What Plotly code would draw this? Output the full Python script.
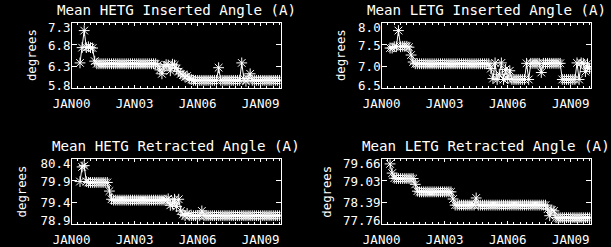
import numpy as np
import plotly.graph_objects as go

# ---------------- data ----------------
TIMES = [
    2000.4, 2000.5, 2000.6, 2000.7, 2000.8, 2000.9,
    2001.0, 2001.1, 2001.2, 2001.3, 2001.4, 2001.5, 2001.6, 2001.7, 2001.8, 2001.9,
    2002.0, 2002.1, 2002.2, 2002.3, 2002.4, 2002.5, 2002.6, 2002.7, 2002.8, 2002.9,
    2003.0, 2003.1, 2003.2, 2003.3, 2003.4, 2003.5, 2003.6, 2003.7, 2003.8, 2003.9,
    2004.0, 2004.1, 2004.2, 2004.3, 2004.4, 2004.5, 2004.6, 2004.7, 2004.8, 2004.9,
    2005.0, 2005.1, 2005.2, 2005.3, 2005.4, 2005.5, 2005.6, 2005.7, 2005.8, 2005.9,
    2006.0, 2006.1, 2006.2, 2006.3, 2006.4, 2006.5, 2006.6, 2006.7, 2006.8, 2006.9,
    2007.0, 2007.1, 2007.2, 2007.3, 2007.4, 2007.5, 2007.6, 2007.7, 2007.8, 2007.9,
    2008.0, 2008.1, 2008.2, 2008.3, 2008.4, 2008.5, 2008.6, 2008.7, 2008.8, 2008.9,
    2009.0, 2009.1, 2009.2, 2009.3, 2009.4, 2009.5, 2009.6, 2009.7, 2009.8, 2009.9,
]

HETG_INSERTED = [
    6.38, 6.73, 7.12, 6.73, 6.75, 6.73,
    6.72, 6.42, 6.36, 6.36, 6.36, 6.36, 6.36, 6.36, 6.36, 6.36,
    6.36, 6.36, 6.36, 6.36, 6.36, 6.36, 6.36, 6.36, 6.36, 6.36,
    6.36, 6.36, 6.36, 6.36, 6.36, 6.36, 6.36, 6.36, 6.36, 6.36,
    6.36, 6.33, 6.22, 6.13, 6.30, 6.34, 6.33, 6.20, 6.35, 6.33,
    6.25, 6.18, 6.13, 6.10, 6.06, 6.08, 6.02, 6.00, 5.98, 5.98,
    5.98, 5.98, 5.98, 5.98, 5.98, 5.98, 5.98, 5.98, 5.98, 5.98,
    6.27, 5.98, 5.98, 5.98, 5.98, 5.98, 5.98, 5.98, 5.98, 5.98,
    5.98, 6.38, 6.02, 5.96, 6.02, 6.13, 5.98, 5.98, 5.98, 5.98,
    5.98, 5.98, 5.98, 5.98, 5.98, 5.98, 5.98, 5.98, 5.98, 5.98,
]

LETG_INSERTED = [
    7.42, 7.42, 7.45, 7.45, 7.82, 7.45,
    7.46, 7.46, 7.46, 7.44, 7.26, 7.10, 7.06, 7.06, 7.06, 7.06,
    7.06, 7.06, 7.06, 7.06, 7.06, 7.06, 7.06, 7.06, 7.06, 7.06,
    7.06, 7.06, 7.06, 7.06, 7.06, 7.06, 7.06, 7.06, 7.06, 7.06,
    7.06, 7.06, 7.06, 7.06, 7.06, 7.06, 7.06, 7.06, 7.06, 7.06,
    7.06, 7.06, 6.95, 6.72, 7.08, 6.70, 6.82, 7.08, 6.70, 6.93,
    6.72, 6.90, 6.70, 6.70, 6.70, 6.70, 6.70, 6.70, 6.70, 7.07,
    6.70, 7.07, 7.07, 7.07, 7.07, 7.07, 6.86, 7.07, 7.07, 7.07,
    7.07, 7.07, 7.07, 7.07, 7.07, 7.07, 6.70, 6.70, 6.70, 6.70,
    6.70, 6.70, 6.70, 7.08, 6.70, 7.08, 7.07, 6.88, 7.06, 6.95,
]

HETG_RETRACTED = [
    79.88, 80.22, 80.25, 79.88, 79.86, 79.86,
    79.86, 79.86, 79.86, 79.86, 79.86, 79.86, 79.86, 79.86, 79.66, 79.47,
    79.45, 79.45, 79.45, 79.45, 79.45, 79.45, 79.45, 79.45, 79.45, 79.45,
    79.45, 79.45, 79.45, 79.45, 79.45, 79.45, 79.45, 79.45, 79.45, 79.45,
    79.45, 79.45, 79.45, 79.45, 79.45, 79.45, 79.48, 79.33, 79.36, 79.47,
    79.30, 79.47, 79.20, 79.12, 79.09, 79.14, 79.09, 79.09, 79.09, 79.09,
    79.09, 79.09, 79.20, 79.09, 79.09, 79.09, 79.09, 79.09, 79.09, 79.09,
    79.09, 79.09, 79.09, 79.09, 79.09, 79.09, 79.09, 79.09, 79.09, 79.09,
    79.09, 79.09, 79.09, 79.09, 79.09, 79.09, 79.09, 79.09, 79.09, 79.09,
    79.09, 79.09, 79.09, 79.09, 79.09, 79.09, 79.09, 79.09, 79.09, 79.09,
]

LETG_RETRACTED = [
    79.52, 79.25, 79.10, 79.09, 79.09, 79.09,
    79.09, 79.09, 79.09, 79.09, 79.09, 79.09, 78.92, 78.72, 78.70, 78.70,
    78.70, 78.70, 78.70, 78.70, 78.70, 78.70, 78.70, 78.70, 78.70, 78.70,
    78.70, 78.70, 78.70, 78.70, 78.49, 78.31, 78.31, 78.31, 78.31, 78.31,
    78.31, 78.31, 78.31, 78.31, 78.31, 78.52, 78.31, 78.31, 78.31, 78.31,
    78.31, 78.31, 78.31, 78.31, 78.31, 78.31, 78.31, 78.31, 78.31, 78.31,
    78.31, 78.31, 78.31, 78.31, 78.31, 78.31, 78.31, 78.31, 78.31, 78.31,
    78.31, 78.31, 78.31, 78.31, 78.31, 78.31, 78.31, 78.31, 78.31, 78.19,
    78.00, 78.17, 78.14, 77.94, 77.94, 77.94, 77.94, 77.94, 77.94, 77.94,
    77.94, 77.94, 77.94, 77.94, 77.94, 77.94, 77.94, 77.94, 77.94, 77.94,
]

TITLES = [
    "Mean HETG Inserted Angle (A)",
    "Mean LETG Inserted Angle (A)",
    "Mean HETG Retracted Angle (A)",
    "Mean LETG Retracted Angle (A)",
]
SERIES = [HETG_INSERTED, LETG_INSERTED, HETG_RETRACTED, LETG_RETRACTED]
YRANGES = [[5.8, 7.3], [6.5, 8.0], [78.9, 80.4], [77.76, 79.66]]
YTICKTEXT = [
    ["5.8", "6.3", "6.8", "7.3"],
    ["6.5", "7.0", "7.5", "8.0"],
    ["78.9", "79.4", "79.9", "80.4"],
    ["77.76", "78.39", "79.03", "79.66"],
]
XTICKVALS = [2000, 2003, 2006, 2009]
XTICKTEXT = ["JAN00", "JAN03", "JAN06", "JAN09"]
XRANGE = [2000.0, 2009.95]
YLABEL = "degrees"

# ---------------- layout geometry (pixels) ----------------
W, H = 611, 247
BOXES = [(54.3, 270.0, 20.3, 87.7), (374.3, 590.0, 20.3, 87.7),
         (54.3, 270.0, 160.7, 227.3), (374.3, 590.0, 160.7, 227.3)]
YLAB_X = [14, 333, 3, 317]
LABEL_SHIFT_PX = [3.0, -0.7, -0.7, -4.7]   # bottom..top, + = up (IDL label placement)
FONT = "DejaVu Sans Mono"
WHITE = "#ffffff"

fig = go.Figure()
layout = dict(
    width=W, height=H,
    margin=dict(l=0, r=0, t=0, b=0),
    paper_bgcolor="#000000", plot_bgcolor="#000000",
    showlegend=False,
    font=dict(family=FONT, color=WHITE, size=12),
)
annotations = []

for i, (box, ys, title, yr, ytt) in enumerate(zip(BOXES, SERIES, TITLES, YRANGES, YTICKTEXT)):
    n = "" if i == 0 else str(i + 1)
    m = str(i + 5)
    x0, x1, y0, y1 = box
    xd = [x0 / W, x1 / W]
    yd = [1 - y1 / H, 1 - y0 / H]
    fig.add_trace(go.Scatter(
        x=TIMES, y=ys, mode="lines+markers",
        xaxis="x" + n, yaxis="y" + n,
        line=dict(color=WHITE, width=1),
        marker=dict(symbol="asterisk-open", size=9, color=WHITE,
                    line=dict(color=WHITE, width=1)),
        hoverinfo="skip",
    ))
    ytv = list(np.linspace(yr[0], yr[1], len(ytt)))
    per_px = (yr[1] - yr[0]) / (y1 - y0)
    ylab_pos = [v + s * per_px for v, s in zip(ytv, LABEL_SHIFT_PX)]
    layout["xaxis" + n] = dict(
        domain=xd, anchor="y" + n, range=XRANGE,
        showline=True, linecolor=WHITE, linewidth=1, mirror="ticks",
        ticks="inside", ticklen=3, tickcolor=WHITE, tickwidth=1,
        tickvals=XTICKVALS, ticktext=XTICKTEXT,
        tickfont=dict(family=FONT, size=12.5, color=WHITE),
        ticklabelstandoff=4,
        showgrid=False, zeroline=False,
        minor=dict(ticks="inside", ticklen=2, dtick=0.3, tick0=2000,
                   tickcolor=WHITE, tickwidth=1, showgrid=False),
    )
    # axis carrying frame + tick marks
    layout["yaxis" + n] = dict(
        domain=yd, anchor="x" + n, range=yr,
        showline=True, linecolor=WHITE, linewidth=1, mirror="ticks",
        ticks="inside", ticklen=5, tickcolor=WHITE, tickwidth=1,
        tickvals=ytv, showticklabels=False,
        showgrid=False, zeroline=False,
    )
    # overlay axis carrying the tick labels (IDL places end labels inside)
    layout["yaxis" + m] = dict(
        overlaying="y" + n, anchor="x" + n, side="left", range=yr,
        showline=False, ticks="", tickvals=ylab_pos, ticktext=ytt,
        tickfont=dict(family=FONT, size=12.5, color=WHITE),
        showgrid=False, zeroline=False,
    )
    annotations.append(dict(
        text=title, xref="paper", yref="paper",
        x=(x0 + x1) / 2 / W, y=1 - (y0 - 20.3) / H, yshift=3,
        xanchor="center", yanchor="top", showarrow=False,
        font=dict(family=FONT, size=14.2, color=WHITE),
    ))
    annotations.append(dict(
        text=YLABEL, xref="paper", yref="paper",
        x=YLAB_X[i] / W, y=1 - (y0 + y1) / 2 / H,
        xanchor="center", yanchor="middle", showarrow=False, textangle=-90,
        font=dict(family=FONT, size=12.3, color=WHITE),
    ))

# an empty trace per overlay axis so the overlay axes render
for i in range(4):
    n = "" if i == 0 else str(i + 1)
    fig.add_trace(go.Scatter(x=[None], y=[None], xaxis="x" + n, yaxis="y" + str(i + 5),
                             mode="markers", hoverinfo="skip"))

layout["annotations"] = annotations
fig.update_layout(**layout)
fig.write_html("out.html")
